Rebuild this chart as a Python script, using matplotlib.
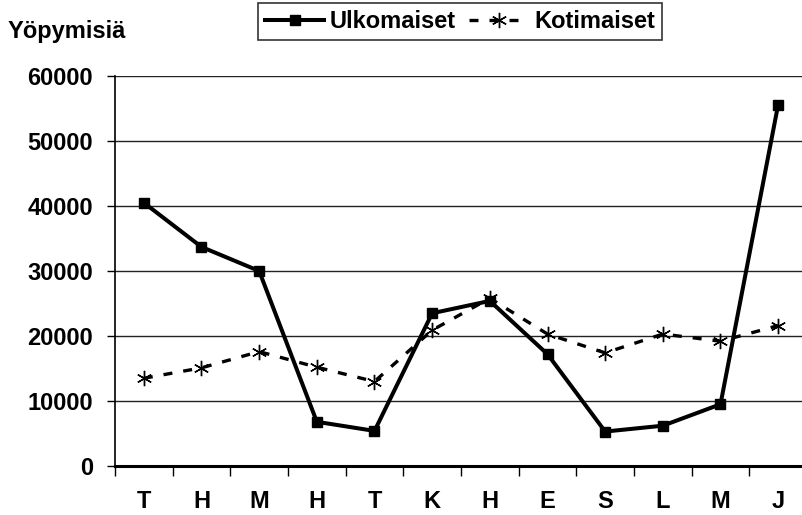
import numpy as np
import matplotlib
matplotlib.use("Agg")
import matplotlib.pyplot as plt

plt.rcParams["font.family"] = ["Liberation Sans", "DejaVu Sans"]
plt.rcParams["font.weight"] = "bold"

months = ["T", "H", "M", "H", "T", "K", "H", "E", "S", "L", "M", "J"]
ulkomaiset = [40500, 33700, 30000, 6800, 5400, 23500, 25400, 17200, 5300, 6200, 9500, 55600]
kotimaiset = [13500, 15100, 17600, 15200, 13000, 20900, 25800, 20300, 17400, 20300, 19200, 21600]
yticks = [0, 10000, 20000, 30000, 40000, 50000, 60000]

W, H = 802, 515
FS = 17
fig = plt.figure(figsize=(W / 100, H / 100), dpi=100)
# plot area runs a little past the right edge of the picture, as in the original
ax = fig.add_axes([115 / W, 1 - 466 / H, (807 - 115) / W, (466 - 76) / H])

x = np.arange(len(months))
ax.plot(x, kotimaiset, color="black", lw=2.4, ls=(0, (2.7, 3.3)),
        marker=(6, 2, 0), ms=11, mew=1.0, label="Kotimaiset", zorder=3)
ax.plot(x, ulkomaiset, color="black", lw=2.9, marker="s", ms=7.5,
        label="Ulkomaiset", zorder=4)

ax.set_xlim(-0.5, len(months) - 0.5)
ax.set_ylim(0, 60000)
ax.set_yticks(yticks)
ax.set_yticklabels([str(v) for v in yticks], fontsize=FS, fontweight="bold")
ax.yaxis.grid(True, color="#222222", lw=1.0)
ax.set_axisbelow(True)

ax.set_xticks(np.arange(-0.5, len(months)), minor=False)
ax.set_xticklabels([])
ax.set_xticks(x, minor=True)
ax.set_xticklabels(months, minor=True, fontsize=FS, fontweight="bold")
ax.tick_params(axis="x", which="major", length=7, width=1, direction="out")
ax.tick_params(axis="x", which="minor", length=0, pad=17)
ax.tick_params(axis="y", length=6, width=1, direction="out", pad=10)

for s in ["top", "right"]:
    ax.spines[s].set_visible(False)
ax.spines["left"].set_linewidth(1.2)
ax.spines["bottom"].set_linewidth(2.2)

fig.text(8 / W, 1 - 38 / H, "Yöpymisiä", fontsize=FS, fontweight="bold",
         va="baseline", ha="left")

handles, labels = ax.get_legend_handles_labels()
leg = fig.legend(handles[::-1], labels[::-1], loc="center",
                 bbox_to_anchor=(460 / W, 1 - 21.5 / H), ncol=2,
                 prop={"size": FS, "weight": "bold"}, frameon=True,
                 fancybox=False, edgecolor="black", handlelength=2.5,
                 columnspacing=0.55, handletextpad=0.25, borderpad=0.3,
                 borderaxespad=0.2)
leg.get_frame().set_linewidth(1.2)

fig.savefig("out.png", dpi=100)
